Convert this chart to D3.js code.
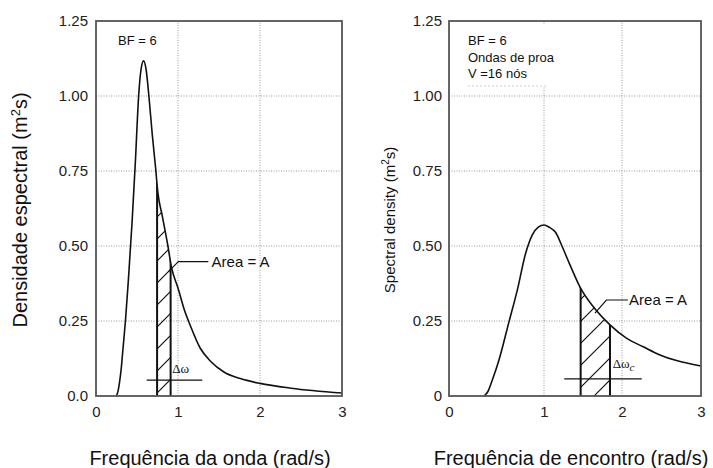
<!DOCTYPE html>
<html>
<head>
<meta charset="utf-8">
<script src="https://cdn.jsdelivr.net/npm/d3@7"></script>
<style>
  body { margin: 0; background: #fff; }
  svg { display: block; font-family: "Liberation Sans", Arial, sans-serif; }
</style>
</head>
<body>
<svg id="chart" width="713" height="468"></svg>
<script>
// Axis ticks
const xTicks = [0, 1, 2, 3];
const yTicks = [0, 0.25, 0.5, 0.75, 1, 1.25];
const leftYTickLabels = ["0.0", "0.25", "0.50", "0.75", "1.00", "1.25"];
const rightYTickLabels = ["0", "0.25", "0.50", "0.75", "1.00", "1.25"];

// Wave spectrum S(ω) for Beaufort 6
const waveFreq = [0.25, 0.27, 0.285, 0.306, 0.33, 0.359, 0.395, 0.44, 0.48, 0.52, 0.55, 0.58, 0.61, 0.645,
  0.685, 0.725, 0.755, 0.81, 0.877, 0.92, 1.0, 1.08, 1.15, 1.27, 1.40, 1.56, 1.76, 2.0, 2.38, 3.0];
const waveDensity = [0, 0.018, 0.042, 0.087, 0.16, 0.25, 0.387, 0.58, 0.78, 1.0, 1.09, 1.117, 1.09, 1.0,
  0.875, 0.765, 0.677, 0.598, 0.50, 0.43, 0.36, 0.285, 0.235, 0.16, 0.115, 0.08, 0.058, 0.042, 0.026, 0.01];

// Encounter spectrum S(ωe), head seas, V = 16 knots
const encFreq = [0.37, 0.41, 0.456, 0.526, 0.632, 0.719, 0.807, 0.877, 0.94, 1.0, 1.07, 1.15, 1.23, 1.333,
  1.46, 1.63, 1.846, 2.06, 2.27, 2.48, 2.69, 3.0];
const encDensity = [0, 0.015, 0.053, 0.12, 0.248, 0.353, 0.476, 0.537, 0.563, 0.57, 0.562, 0.545, 0.50, 0.437,
  0.364, 0.298, 0.237, 0.192, 0.164, 0.137, 0.118, 0.10];

// Frequency bands whose area equals A
const waveBand = [0.745, 0.91];
const encBand = [1.47, 1.846];

const svg = d3.select("#chart");
const defs = svg.append("defs");

defs.append("pattern")
  .attr("id", "hatch")
  .attr("patternUnits", "userSpaceOnUse")
  .attr("width", 22).attr("height", 22)
  .append("path")
  .attr("d", "M-3,25 L25,-3 M-11,11 L11,-11 M11,33 L33,11")
  .attr("stroke", "#111").attr("stroke-width", 1.2).attr("fill", "none");

function drawPanel(cfg) {
  const { id, x, y, freq, dens, band, yLabels } = cfg;
  const pts = freq.map((f, i) => [f, dens[i]]);
  const g = svg.append("g");

  // grid
  const grid = g.append("g").attr("stroke", "#9a9a9a").attr("stroke-width", 1)
    .attr("stroke-dasharray", "1,1.5");
  grid.selectAll(".gy").data(yTicks.filter(d => d > 0 && d < 1.25)).join("line")
    .attr("x1", x.range()[0]).attr("x2", x.range()[x.range().length - 1])
    .attr("y1", d => y(d)).attr("y2", d => y(d));
  grid.selectAll(".gx").data(xTicks.filter(d => d > 0 && d < 3)).join("line")
    .attr("x1", d => x(d)).attr("x2", d => x(d))
    .attr("y1", y(0)).attr("y2", y(1.25));

  if (cfg.before) cfg.before(g);

  const area = d3.area().curve(d3.curveMonotoneX)
    .x(d => x(d[0])).y0(y(0)).y1(d => y(d[1]));
  const line = d3.line().curve(d3.curveMonotoneX)
    .x(d => x(d[0])).y(d => y(d[1]));

  defs.append("clipPath").attr("id", "under-" + id)
    .append("path").attr("d", area(pts));

  // hatched band under the curve
  const hb = g.append("g").attr("clip-path", `url(#under-${id})`);
  hb.append("rect")
    .attr("x", x(band[0])).attr("width", x(band[1]) - x(band[0]))
    .attr("y", y(1.25)).attr("height", y(0) - y(1.25))
    .attr("fill", "url(#hatch)");
  hb.selectAll(".edge").data(band).join("line")
    .attr("x1", d => x(d)).attr("x2", d => x(d))
    .attr("y1", y(0)).attr("y2", y(1.25))
    .attr("stroke", "#111").attr("stroke-width", 2);

  // spectrum curve
  g.append("path").attr("d", line(pts))
    .attr("fill", "none").attr("stroke", "#111").attr("stroke-width", 1.6);

  // frame
  g.append("rect")
    .attr("x", x.range()[0]).attr("y", y(1.25))
    .attr("width", x.range()[x.range().length - 1] - x.range()[0])
    .attr("height", y(0) - y(1.25))
    .attr("fill", "none").attr("stroke", "#555").attr("stroke-width", 1.8);

  // axes
  const ay = g.append("g").attr("transform", `translate(${x.range()[0]},0)`)
    .call(d3.axisLeft(y).tickValues(yTicks).tickFormat((d, i) => yLabels[i]).tickSize(0).tickPadding(cfg.yPad));
  ay.select(".domain").remove();
  ay.attr("font-size", 15).attr("font-family", null);
  ay.selectAll("text").attr("fill", "#222");

  const ax = g.append("g").attr("transform", `translate(0,${y(0)})`)
    .call(d3.axisBottom(x).tickValues(xTicks).tickFormat(d3.format("d")).tickSize(0).tickPadding(10));
  ax.select(".domain").remove();
  ax.attr("font-size", 15).attr("font-family", null);
  ax.selectAll("text").attr("fill", "#222");

  return g;
}

const yL = d3.scaleLinear().domain([0, 1.25]).range([396, 21]);
const xL = d3.scaleLinear().domain([0, 3]).range([96, 342]);
const yR = d3.scaleLinear().domain([0, 1.25]).range([396, 21]);
const xR = d3.scaleLinear().domain([0, 1, 2, 3]).range([449, 544, 622, 701]);

// ---- left panel: wave frequency ----
const gL = drawPanel({ id: "wave", x: xL, y: yL, freq: waveFreq, dens: waveDensity, band: waveBand,
  yLabels: leftYTickLabels, yPad: 8 });

gL.append("text").attr("x", 118).attr("y", 45).attr("font-size", 13).attr("fill", "#111").text("BF = 6");

gL.append("path")
  .attr("d", d3.line()([[xL(0.882), yL(0.414)], [xL(1.004), yL(0.448)], [xL(1.37), yL(0.448)]]))
  .attr("fill", "none").attr("stroke", "#111").attr("stroke-width", 1.2);
gL.append("text").attr("x", xL(1.41)).attr("y", yL(0.448)).attr("dy", "0.35em")
  .attr("font-size", 15).attr("fill", "#111").text("Area = A");

gL.append("line")
  .attr("x1", xL(0.618)).attr("x2", xL(1.296)).attr("y1", yL(0.053)).attr("y2", yL(0.053))
  .attr("stroke", "#111").attr("stroke-width", 1.2);
gL.append("text").attr("x", xL(0.93)).attr("y", yL(0.077))
  .attr("font-family", "'Liberation Serif', 'Times New Roman', serif")
  .attr("font-size", 13).attr("fill", "#111").text("Δω");

gL.append("text").attr("transform", "translate(20,210) rotate(-90)")
  .attr("text-anchor", "middle").attr("dy", "0.35em").attr("font-size", 20).attr("fill", "#111")
  .call(t => {
    t.append("tspan").text("Densidade espectral (m");
    t.append("tspan").attr("dy", -7).attr("font-size", 13).text("2");
    t.append("tspan").attr("dy", 7).text("s)");
  });

gL.append("text").attr("x", 210).attr("y", 465).attr("text-anchor", "middle")
  .attr("font-size", 20).attr("fill", "#111").text("Frequência da onda (rad/s)");

// ---- right panel: encounter frequency ----
const gR = drawPanel({ id: "enc", x: xR, y: yR, freq: encFreq, dens: encDensity, band: encBand,
  yLabels: rightYTickLabels, yPad: 7,
  before: g => {
    // white backing of the condition note
    g.append("rect").attr("x", 458).attr("y", 25).attr("width", 96).attr("height", 61).attr("fill", "#fff");
    g.append("line").attr("x1", 468).attr("x2", 548).attr("y1", 86).attr("y2", 86)
      .attr("stroke", "#cfcfcf").attr("stroke-width", 1).attr("stroke-dasharray", "2,2");
  } });

const note = ["BF = 6", "Ondas de proa", "V =16 nós"];
gR.selectAll(".note").data(note).join("text")
  .attr("x", 468).attr("y", (d, i) => 45 + i * 16.5)
  .attr("font-size", 13).attr("fill", "#111").text(d => d);

gR.append("path")
  .attr("d", d3.line()([[xR(1.654), yR(0.276)], [xR(1.80), yR(0.32)], [xR(2.075), yR(0.32)]]))
  .attr("fill", "none").attr("stroke", "#111").attr("stroke-width", 1.2);
gR.append("text").attr("x", xR(2.09)).attr("y", yR(0.32)).attr("dy", "0.35em")
  .attr("font-size", 15).attr("fill", "#111").text("Area = A");

gR.append("line")
  .attr("x1", xR(1.26)).attr("x2", xR(2.25)).attr("y1", yR(0.057)).attr("y2", yR(0.057))
  .attr("stroke", "#111").attr("stroke-width", 1.2);
gR.append("text").attr("x", xR(1.88)).attr("y", yR(0.093))
  .attr("font-family", "'Liberation Serif', 'Times New Roman', serif")
  .attr("font-size", 13).attr("fill", "#111")
  .call(t => {
    t.append("tspan").text("Δω");
    t.append("tspan").attr("dy", 3).attr("font-style", "italic").attr("font-size", 11).text("c");
  });

gR.append("text").attr("transform", "translate(390,220) rotate(-90)")
  .attr("text-anchor", "middle").attr("dy", "0.35em").attr("font-size", 15).attr("fill", "#111")
  .call(t => {
    t.append("tspan").text("Spectral density (m");
    t.append("tspan").attr("dy", -6).attr("font-size", 10).text("2");
    t.append("tspan").attr("dy", 6).text("s)");
  });

gR.append("text").attr("x", 571).attr("y", 465).attr("text-anchor", "middle")
  .attr("font-size", 20).attr("fill", "#111").text("Frequência de encontro (rad/s)");
</script>
</body>
</html>
